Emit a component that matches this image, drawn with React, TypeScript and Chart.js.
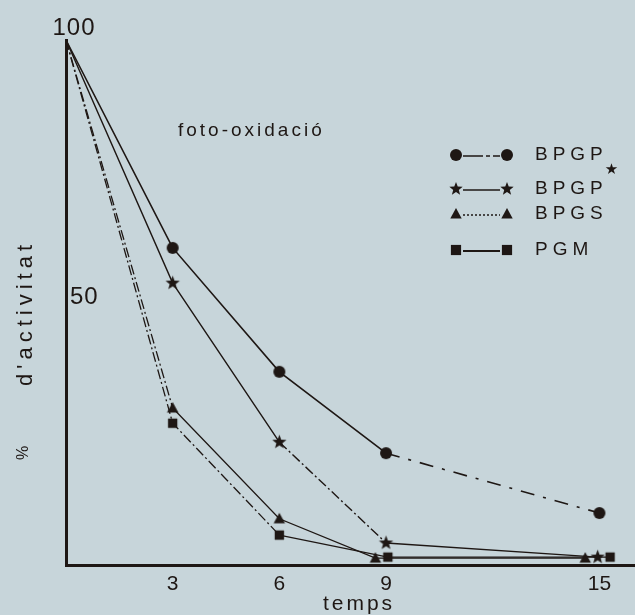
import React, { useEffect, useRef } from "react";
import { Chart, registerables } from "chart.js";

Chart.register(...registerables);

// ---- data ----
const seriesNames = ["BPGP", "BPGP", "BPGS", "PGM"];
const seriesSuper = ["", "★", "", ""];
const timeTicks = [3, 6, 9, 15];
const yTickLabels = [50, 100];

const bpgpX = [0, 3, 6, 9, 15];
const bpgpY = [100, 60.4, 36.8, 21.3, 9.9];
const bpgpStarX = [0, 3, 6, 9, 14.95];
const bpgpStarY = [100, 53.7, 23.4, 4.2, 1.5];
const bpgsX = [0, 3, 6, 8.7, 14.6];
const bpgsY = [100, 29.9, 8.8, 1.3, 1.3];
const pgmX = [0, 3, 6, 9.05, 15.3];
const pgmY = [100, 27, 5.7, 1.5, 1.5];

const INK = "#1e1714";
const PAPER = "#c7d5da";

const DASH: Record<string, number[]> = {
  solid: [],
  dashdot: [10, 3, 2, 3],
  sparse: [14, 9, 3, 9],
  dotted: [2, 2],
};

function makeMarker(kind: string, size: number): HTMLCanvasElement {
  const c = document.createElement("canvas");
  c.width = size;
  c.height = size;
  const g = c.getContext("2d")!;
  drawShape(g, kind, size / 2, size / 2, size / 2 - 1);
  return c;
}

function drawShape(g: CanvasRenderingContext2D, kind: string, cx: number, cy: number, r: number) {
  g.save();
  g.fillStyle = INK;
  g.beginPath();
  if (kind === "circle") {
    g.arc(cx, cy, r, 0, Math.PI * 2);
  } else if (kind === "star") {
    for (let i = 0; i < 10; i++) {
      const ang = -Math.PI / 2 + (i * Math.PI) / 5;
      const rr = i % 2 === 0 ? r : r * 0.42;
      const x = cx + rr * Math.cos(ang);
      const y = cy + rr * Math.sin(ang);
      if (i === 0) g.moveTo(x, y);
      else g.lineTo(x, y);
    }
    g.closePath();
  } else if (kind === "triangle") {
    g.moveTo(cx, cy - r);
    g.lineTo(cx + r * 0.95, cy + r * 0.75);
    g.lineTo(cx - r * 0.95, cy + r * 0.75);
    g.closePath();
  } else {
    g.rect(cx - r * 0.85, cy - r * 0.85, r * 1.7, r * 1.7);
  }
  g.fill();
  g.restore();
}

function toPts(xs: number[], ys: number[]) {
  return xs.map((x, i) => ({ x, y: ys[i] }));
}

export default function App() {
  const ref = useRef<HTMLCanvasElement | null>(null);

  useEffect(() => {
    document.body.style.margin = "0";
    const canvas = ref.current!;
    const markers = {
      circle: makeMarker("circle", 14),
      star: makeMarker("star", 17),
      triangle: makeMarker("triangle", 14),
      square: makeMarker("square", 13),
    };

    const mk = (
      label: string,
      pts: { x: number; y: number }[],
      marker: HTMLCanvasElement,
      dashes: string[],
      width: number
    ) => ({
      label,
      data: pts,
      borderColor: INK,
      backgroundColor: INK,
      borderWidth: width,
      pointStyle: marker as any,
      pointRadius: (ctx: any) => (ctx.dataIndex === 0 ? 0 : 7),
      pointHoverRadius: 7,
      clip: false as any,
      tension: 0,
      segment: {
        borderDash: (ctx: any) => DASH[dashes[ctx.p0DataIndex]] || [],
      },
    });

    const datasets = [
      mk("BPGP", toPts(bpgpX, bpgpY), markers.circle, ["solid", "solid", "solid", "sparse"], 1.6),
      mk("BPGP★", toPts(bpgpStarX, bpgpStarY), markers.star, ["solid", "solid", "dashdot", "solid"], 1.4),
      mk("BPGS", toPts(bpgsX, bpgsY), markers.triangle, ["dashdot", "solid", "solid", "solid"], 1.3),
      mk("PGM", toPts(pgmX, pgmY), markers.square, ["dashdot", "dashdot", "solid", "solid"], 1.3),
    ];

    const decor = {
      id: "decor",
      beforeDraw(chart: any) {
        const g = chart.ctx as CanvasRenderingContext2D;
        g.save();
        g.fillStyle = PAPER;
        g.fillRect(0, 0, chart.width, chart.height);
        g.restore();
      },
      afterDraw(chart: any) {
        const g = chart.ctx as CanvasRenderingContext2D;
        const ys = chart.scales.y;
        const left = chart.chartArea.left;
        g.save();
        g.fillStyle = INK;
        g.textBaseline = "middle";
        (g as any).letterSpacing = "1px";

        // y values
        g.font = "24px 'Liberation Sans', Arial, sans-serif";
        g.textAlign = "center";
        g.fillText(String(yTickLabels[1]), left + 8, ys.getPixelForValue(yTickLabels[1]) - 12);
        g.textAlign = "left";
        g.fillText(String(yTickLabels[0]), left + 4, ys.getPixelForValue(yTickLabels[0]) - 5);

        // y title
        g.save();
        g.translate(26, 313);
        g.rotate(-Math.PI / 2);
        g.textAlign = "center";
        (g as any).letterSpacing = "5px";
        g.font = "22px 'Liberation Sans', Arial, sans-serif";
        g.fillText("d'activitat", 0, 0);
        g.restore();
        g.save();
        g.translate(24, 453);
        g.rotate(-Math.PI / 2);
        g.textAlign = "center";
        (g as any).letterSpacing = "0px";
        g.font = "16px 'Liberation Sans', Arial, sans-serif";
        g.fillText("%", 0, 0);
        g.restore();

        // annotation
        (g as any).letterSpacing = "3px";
        g.textAlign = "left";
        g.font = "19px 'Liberation Sans', Arial, sans-serif";
        g.fillText("foto-oxidació", 178, 131);

        // x title
        (g as any).letterSpacing = "3px";
        g.textAlign = "center";
        g.font = "21px 'Liberation Sans', Arial, sans-serif";
        g.fillText("temps", 359, 604);

        // legend
        const kinds = ["circle", "star", "triangle", "square"];
        const rowY = [155, 189, 214, 250];
        const legDash = [[20, 3, 4, 3], [], [2, 2], []];
        const legW = [1.6, 1.4, 1.3, 2];
        kinds.forEach((k, i) => {
          const y = rowY[i];
          g.save();
          g.strokeStyle = INK;
          g.lineWidth = legW[i];
          g.setLineDash(legDash[i]);
          g.beginPath();
          g.moveTo(463, y + 1);
          g.lineTo(500, y + 1);
          g.stroke();
          g.restore();
          const r = k === "star" ? 7 : 6;
          drawShape(g, k, 456, y, r);
          drawShape(g, k, 507, y, r);
          (g as any).letterSpacing = "5px";
          g.textAlign = "left";
          g.font = "19px 'Liberation Sans', Arial, sans-serif";
          g.fillText(seriesNames[i], 535, y);
          if (seriesSuper[i]) {
            const w = g.measureText(seriesNames[i]).width;
            (g as any).letterSpacing = "0px";
            g.font = "15px 'DejaVu Sans', sans-serif";
            g.fillText(seriesSuper[i], 535 + w - 3, y - 19);
          }
        });
        g.restore();
      },
    };

    const chart = new Chart(canvas, {
      type: "line",
      data: { datasets: datasets as any },
      plugins: [decor],
      options: {
        animation: false,
        responsive: false,
        maintainAspectRatio: false,
        events: [],
        layout: { autoPadding: false, padding: { top: 40, right: 0, left: 0, bottom: 0 } },
        plugins: { legend: { display: false }, tooltip: { enabled: false } },
        scales: {
          x: {
            type: "linear",
            min: 0,
            max: 16,
            grid: { display: false, drawTicks: false },
            border: { display: true, color: INK, width: 3 },
            afterBuildTicks: (s: any) => {
              s.ticks = timeTicks.map((v) => ({ value: v }));
            },
            afterFit: (s: any) => {
              s.height = 50;
              s.paddingRight = 0;
              s.paddingLeft = 0;
            },
            ticks: {
              color: INK,
              padding: 7,
              autoSkip: false,
              maxRotation: 0,
              font: { family: "'Liberation Sans', Arial, sans-serif", size: 21 },
            },
          },
          y: {
            type: "linear",
            min: 0,
            max: 100,
            grid: { display: false, drawTicks: false },
            border: { display: true, color: INK, width: 3 },
            ticks: { display: false },
            afterFit: (s: any) => {
              s.width = 66;
              s.paddingTop = 0;
              s.paddingBottom = 0;
            },
          },
        },
      },
    });
    return () => chart.destroy();
  }, []);

  return (
    <div style={{ width: 635, height: 615 }}>
      <canvas ref={ref} width={635} height={615} style={{ display: "block" }} />
    </div>
  );
}
